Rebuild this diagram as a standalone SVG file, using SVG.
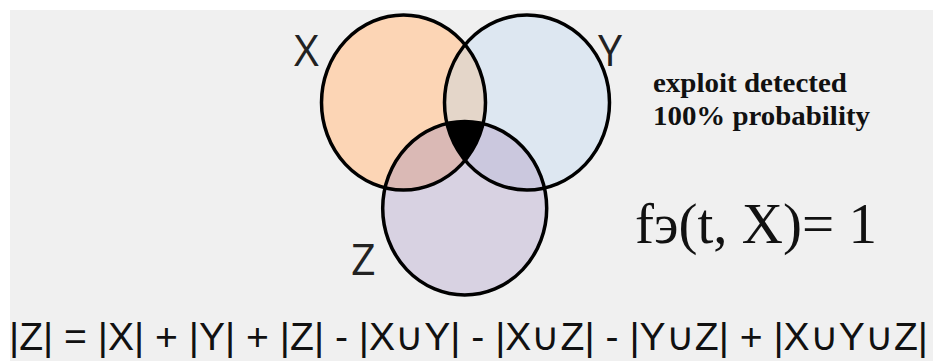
<svg xmlns="http://www.w3.org/2000/svg" width="933" height="361" viewBox="0 0 933 361">
<style>
.ring{fill:none;stroke:#000;stroke-width:3.5}
.lbl{font-family:"Open Sans","Liberation Sans",Arial,sans-serif;font-weight:400;font-size:43px;fill:#222}
.note{font-family:"Liberation Serif","Times New Roman",serif;font-weight:bold;font-size:28px;fill:#111}
.fx{font-family:"Liberation Serif","Times New Roman",serif;font-size:58px;fill:#111}
.eq{font-family:"Liberation Sans",Arial,sans-serif;font-size:39px;fill:#111}
</style>
<defs>
<clipPath id="cx"><ellipse cx="403.5" cy="102.5" rx="82" ry="87.5"/></clipPath>
<clipPath id="cy"><ellipse cx="527" cy="102.5" rx="82.5" ry="87.5"/></clipPath>
</defs>
<rect x="0" y="0" width="933" height="361" fill="#ffffff"/>
<rect x="10" y="10" width="923" height="351" fill="#f0f0f0"/>
<g id="X">
<ellipse cx="403.5" cy="102.5" rx="82" ry="87.5" fill="#fcd5b5"/>
</g>
<g id="Y">
<ellipse cx="527" cy="102.5" rx="82.5" ry="87.5" fill="#dde7f1"/>
<ellipse clip-path="url(#cx)" cx="527" cy="102.5" rx="82.5" ry="87.5" fill="#e4d6c9"/>
</g>
<g id="Z">
<ellipse cx="464.7" cy="208.3" rx="82" ry="86.7" fill="#d8d2e2"/>
<ellipse clip-path="url(#cx)" cx="464.7" cy="208.3" rx="82" ry="86.7" fill="#dab9b5"/>
<ellipse clip-path="url(#cy)" cx="464.7" cy="208.3" rx="82" ry="86.7" fill="#cbc8de"/>
<g clip-path="url(#cx)"><ellipse clip-path="url(#cy)" cx="464.7" cy="208.3" rx="82" ry="86.7" fill="#000"/></g>
</g>
<g id="outlines">
<ellipse class="ring" cx="403.5" cy="102.5" rx="82" ry="87.5"/>
<ellipse class="ring" cx="527" cy="102.5" rx="82.5" ry="87.5"/>
<ellipse class="ring" cx="464.7" cy="208.3" rx="82" ry="86.7"/>
</g>
<g id="labels">
<text class="lbl" x="294" y="66">X</text>
<text class="lbl" x="598" y="66">Y</text>
<text class="lbl" x="351" y="275">Z</text>
</g>
<g id="note">
<text class="note" x="653" y="92" textLength="194" lengthAdjust="spacingAndGlyphs">exploit detected</text>
<text class="note" x="653" y="125" textLength="217" lengthAdjust="spacingAndGlyphs">100% probability</text>
</g>
<g id="formula">
<text class="fx" x="635" y="243" textLength="242" lengthAdjust="spacingAndGlyphs">fэ(t, X)= 1</text>
</g>
<g id="equation">
<text class="eq" x="9" y="350" textLength="919" lengthAdjust="spacingAndGlyphs">|Z| = |X| + |Y| + |Z| - |X∪Y| - |X∪Z| - |Y∪Z| + |X∪Y∪Z|</text>
</g>
</svg>
